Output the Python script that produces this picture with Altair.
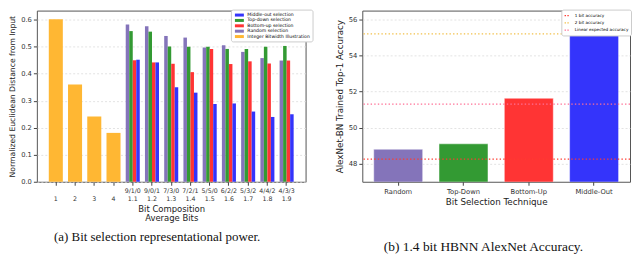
import altair as alt
import pandas as pd

# ---------------- data: panel (a) ----------------
int_bits = ["1", "2", "3", "4"]
int_dist = [0.602, 0.360, 0.242, 0.181]

compositions = ["9/1/0", "9/0/1", "7/3/0", "7/2/1", "5/5/0", "6/2/2", "5/3/2", "4/4/2", "4/3/3"]
avg_bits = ["1.1", "1.2", "1.3", "1.4", "1.5", "1.6", "1.7", "1.8", "1.9"]
random_sel = [0.582, 0.576, 0.540, 0.534, 0.497, 0.506, 0.481, 0.458, 0.449]
top_down = [0.558, 0.556, 0.501, 0.500, 0.500, 0.492, 0.492, 0.500, 0.503]
bottom_up = [0.450, 0.442, 0.437, 0.406, 0.492, 0.436, 0.446, 0.438, 0.449]
middle_out = [0.452, 0.442, 0.350, 0.330, 0.288, 0.290, 0.260, 0.240, 0.250]

series_names = ["Middle-out selection", "Top-down selection", "Bottom-up selection",
                "Random selection", "Integer Bitwidth Illustration"]
series_colors = ["#3434fb", "#339a33", "#ff3434", "#8474ba", "#ffb733"]
offset_order = ["Random selection", "Top-down selection", "Bottom-up selection", "Middle-out selection"]

# ---------------- data: panel (b) ----------------
techniques = ["Random", "Top-Down", "Bottom-Up", "Middle-Out"]
accuracy = [48.80, 49.10, 51.62, 55.17]
tech_colors = ["#8474ba", "#339a33", "#ff3434", "#3434fb"]
ref_names = ["1 bit accuracy", "2 bit accuracy", "Linear expected accuracy"]
ref_values = [48.25, 55.18, 51.30]
ref_colors = ["#ff3b30", "#f2c04a", "#ff6f95"]

# ---------------- tables ----------------
cat_order = ["|" + b for b in int_bits] + [c + "|" + a for c, a in zip(compositions, avg_bits)]
int_df = pd.DataFrame({"cat": ["|" + b for b in int_bits], "value": int_dist,
                       "series": "Integer Bitwidth Illustration"})
rows = []
for i, (c, a) in enumerate(zip(compositions, avg_bits)):
    key = c + "|" + a
    rows.append({"cat": key, "series": "Random selection", "value": random_sel[i]})
    rows.append({"cat": key, "series": "Top-down selection", "value": top_down[i]})
    rows.append({"cat": key, "series": "Bottom-up selection", "value": bottom_up[i]})
    rows.append({"cat": key, "series": "Middle-out selection", "value": middle_out[i]})
grp_df = pd.DataFrame(rows)

FONT = "DejaVu Sans"
rect_path = "M-1.5,-0.5H1.5V0.5H-1.5Z"

x_left = alt.X("cat:N", sort=cat_order,
               scale=alt.Scale(domain=cat_order, paddingInner=0.27, paddingOuter=0.62),
               axis=alt.Axis(labelExpr="split(datum.label, '|')", labelAngle=0,
                             labelFontSize=6.3, labelLineHeight=8, labelPadding=2,
                             title=["Bit Composition", "Average Bits"], titleFontSize=8.5,
                             titleLineHeight=9.5, titlePadding=3, grid=False))
y_left = alt.Y("value:Q", scale=alt.Scale(domain=[0, 0.634], nice=False, zero=True),
               axis=alt.Axis(values=[0, 0.1, 0.2, 0.3, 0.4, 0.5, 0.6], format=".1f",
                             title="Normalized Euclidean Distance from Input",
                             titleFontSize=7.7, titlePadding=4, labelFontSize=6.8))
legend_left = alt.Legend(orient="none", legendX=195, legendY=-1, title=None,
                         labelFontSize=4.6, labelFont=FONT, labelOffset=5,
                         symbolType=rect_path, symbolSize=36, symbolOffset=3,
                         symbolStrokeWidth=0, rowPadding=0.4,
                         fillColor="white", strokeColor="#cccccc",
                         padding=2.5, cornerRadius=2, labelLimit=200)
color_scale_left = alt.Scale(domain=series_names, range=series_colors)

int_bars = alt.Chart(int_df).mark_bar(opacity=1).encode(
    x=x_left, y=y_left,
    color=alt.Color("series:N", scale=color_scale_left, legend=legend_left))
grp_bars = alt.Chart(grp_df).mark_bar(opacity=1).encode(
    x=x_left, y=y_left,
    color=alt.Color("series:N", scale=color_scale_left, legend=legend_left),
    xOffset=alt.XOffset("series:N", scale=alt.Scale(domain=offset_order, paddingInner=0, paddingOuter=0)))

left = alt.layer(int_bars, grp_bars).properties(
    width=270, height=172,
    title=alt.TitleParams(text="(a) Bit selection representational power.", orient="bottom",
                          anchor="middle", frame="bounds", font="Liberation Serif",
                          fontSize=13, fontWeight="normal", color="#111", offset=9))

# ---------------- panel (b) ----------------
bar_df = pd.DataFrame({"tech": techniques, "acc": accuracy})
ref_df = pd.DataFrame({"name": ref_names, "val": ref_values})

y_right_scale = alt.Scale(domain=[47.0, 56.47], nice=False, zero=False)
bars_b = alt.Chart(bar_df).mark_bar(clip=True, stroke="white", strokeWidth=0.8,
                                    strokeOpacity=0.6).encode(
    x=alt.X("tech:N", sort=techniques,
            scale=alt.Scale(paddingInner=0.25, paddingOuter=0.175),
            axis=alt.Axis(labelAngle=0, labelFontSize=6.8, labelPadding=3,
                          title="Bit Selection Technique", titleFontSize=8.8, titlePadding=3,
                          grid=False)),
    y=alt.Y("acc:Q", scale=y_right_scale,
            axis=alt.Axis(values=[48, 50, 52, 54, 56], title="AlexNet-BN Trained Top-1 Accuracy",
                          titleFontSize=8.8, titlePadding=4, labelFontSize=6.8)),
    color=alt.Color("tech:N", scale=alt.Scale(domain=techniques, range=tech_colors), legend=None))

rules_b = alt.Chart(ref_df).mark_rule(strokeDash=[1.4, 2.2], strokeWidth=1.3).encode(
    y=alt.Y("val:Q", scale=y_right_scale),
    color=alt.Color("name:N", scale=alt.Scale(domain=ref_names, range=ref_colors),
                    legend=alt.Legend(orient="none", legendX=200, legendY=-1, title=None,
                                      labelFontSize=4.2, labelFont=FONT, labelOffset=4,
                                      symbolType="stroke", symbolDash=[1.4, 1.4],
                                      symbolStrokeWidth=1.3, symbolSize=30,
                                      rowPadding=0.3, fillColor="white",
                                      strokeColor="#cccccc", padding=2.5,
                                      cornerRadius=2, labelLimit=200)))

right = alt.layer(bars_b, rules_b).resolve_scale(color="independent").properties(
    width=269, height=172,
    title=alt.TitleParams(text="(b) 1.4 bit HBNN AlexNet Accuracy.", orient="bottom",
                          anchor="middle", frame="bounds", font="Liberation Serif",
                          fontSize=13.5, fontWeight="normal", color="#111", offset=33))

chart = alt.hconcat(left, right, spacing=28).properties(padding=0).configure(
    font=FONT
).configure_view(
    stroke="#555555", strokeWidth=1
).configure_axis(
    labelFont=FONT, titleFont=FONT, labelColor="#333", titleColor="#222",
    titleFontWeight="normal", domain=False, tickColor="#444", tickSize=3.5,
    gridColor="#dcdcdc", gridDash=[2, 2], gridWidth=0.8
).configure_axisX(grid=False)

chart.save("out.html", embed_options={"renderer": "svg", "actions": False})
